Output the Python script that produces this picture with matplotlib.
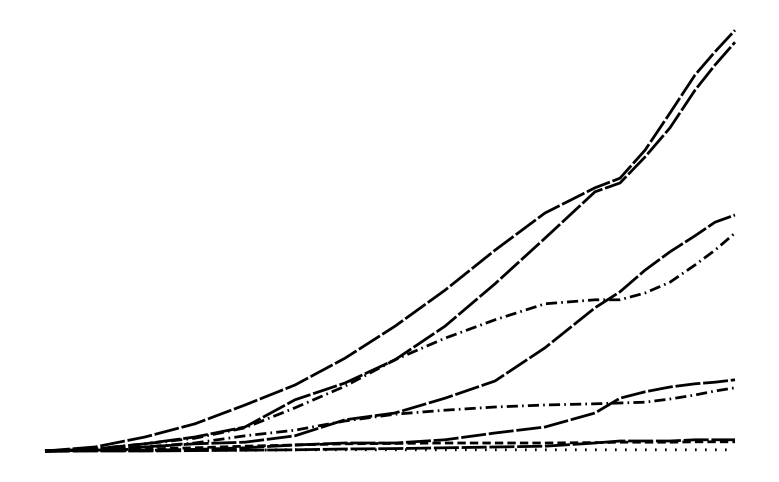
import matplotlib
matplotlib.use("Agg")
import matplotlib.pyplot as plt

# time steps (common x for all series)
t = [0, 5, 10, 15, 20, 25, 30, 35, 40, 45, 50, 55, 57.5, 60, 62.5, 65, 67, 69]

# series values
a = [0, 1.0, 3.5, 6.8, 11.5, 16.5, 23.2, 31.2, 40.2, 50.2, 59.5, 65.8, 68.2, 75.2, 84.5, 94.0, 99.8, 105.2]
b = [0, 0.5, 1.8, 3.5, 6.0, 12.8, 17.0, 22.8, 31.2, 41.8, 53.2, 64.8, 67.0, 73.5, 80.8, 90.2, 96.5, 102.2]
c = [0, 0.5, 1.8, 3.2, 5.8, 10.8, 16.2, 22.8, 28.2, 32.8, 36.8, 37.8, 37.8, 39.5, 42.2, 46.5, 50.2, 54.5]
d = [0, 0.2, 1.0, 1.8, 2.2, 3.8, 7.8, 9.5, 13.2, 17.5, 25.8, 35.8, 39.8, 45.2, 49.8, 53.8, 57.2, 59.0]
e = [0, 0.1, 0.2, 0.4, 0.8, 1.5, 2.0, 2.0, 2.8, 4.5, 6.0, 9.5, 13.2, 14.8, 16.0, 16.8, 17.2, 17.8]
f = [0, 0.2, 1.0, 2.0, 3.8, 5.2, 7.5, 9.2, 10.2, 11.0, 11.5, 11.8, 12.0, 12.2, 13.0, 14.0, 15.0, 15.8]
g = [0, 0, 0, 0.1, 0.2, 0.3, 0.5, 0.6, 0.8, 1.0, 1.2, 2.0, 2.5, 2.5, 2.5, 2.8, 2.8, 2.8]
h = [0, 0.2, 0.5, 0.8, 1.2, 1.5, 1.8, 1.9, 2.0, 2.0, 2.0, 2.1, 2.2, 2.2, 2.2, 2.3, 2.3, 2.3]
k = [0, 0.1, 0.2, 0.2, 0.2, 0.3, 0.3, 0.3, 0.3, 0.3, 0.3, 0.3, 0.3, 0.3, 0.3, 0.3, 0.3, 0.3]

long_dash = (0, (9, 1))
dash_dot = (0, (4, 1.5, 0.6, 1.5))
dashed = (0, (3, 1.5))
dotted = (0, (0.6, 3))

fig = plt.figure(figsize=(7.79, 4.82), dpi=100)
ax = fig.add_axes([0, 0, 1, 1])

series = [(a, long_dash), (b, long_dash), (c, dash_dot), (d, long_dash),
          (e, long_dash), (f, dash_dot), (g, long_dash), (h, dashed), (k, dotted)]
for y, style in series:
    ax.plot(t, y, color="black", lw=2, ls=style)

ax.set_xlim(-4.5, 73.4)
ax.set_ylim(-7.75, 112.75)
ax.axis("off")

plt.savefig("out.png")
